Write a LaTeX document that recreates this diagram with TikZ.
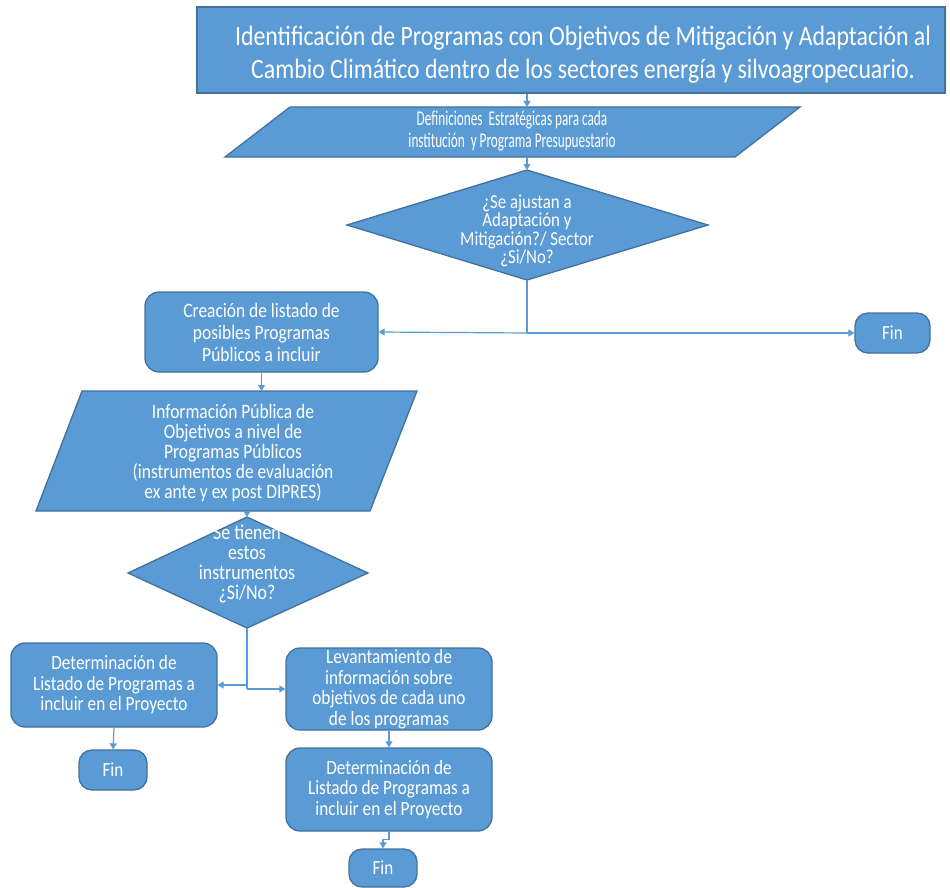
\documentclass[tikz,border=0pt]{standalone}
\usepackage{fontspec}
\setmainfont{Carlito}
\newfontfamily\flowfont[FakeStretch=0.85]{Carlito}
\newfontfamily\slimfont[FakeStretch=0.63]{Carlito}
\usetikzlibrary{arrows.meta}
\definecolor{flowfill}{HTML}{5B9BD5}
\definecolor{flowedge}{HTML}{41719C}
\definecolor{flowline}{HTML}{5B9BD5}
\newcommand{\fsz}[2]{\flowfont\fontsize{#1}{#2}\selectfont}
\begin{document}
\begin{tikzpicture}[x=1pt,y=-1pt,
  shapefill/.style={fill=flowfill, draw=flowedge, line width=1.3pt},
  txt/.style={text=white, align=center, inner sep=0pt, font=\fsz{20.3}{20.5}},
  procbox/.style={shapefill, txt, rounded corners=14pt},
  finbox/.style={shapefill, txt, rounded corners=13pt, font=\fsz{20}{20}},
  link/.style={draw=flowline, line width=1.2pt},
  flow/.style={link, -{Triangle[width=7pt,length=6pt]}}
]
\useasboundingbox (0,0) rectangle (950,888);

% title block
\node[shapefill, minimum width=748pt, minimum height=86pt] (top) at (571,50) {};
\node[txt, font=\fsz{28}{33}] (toptext) at (583,55)
  {Identificación de Programas con Objetivos de Mitigación y Adaptación al\\Cambio Climático dentro de los sectores energía y silvoagropecuario.};

% strategic definitions (data block)
\draw[shapefill] (290,107) -- (800,107) -- (735,157) -- (225,157) -- cycle;
\node[txt, font=\slimfont\fontsize{21}{22}\selectfont] (defs) at (512,131)
  {Definiciones \ Estratégicas para cada\\institución \ y Programa Presupuestario};
\coordinate (defsN) at (527,107);
\coordinate (defsS) at (527,157);

% first decision
\draw[shapefill] (527,170) -- (708,225) -- (527,280) -- (347,225) -- cycle;
\node[txt, font=\fsz{19.8}{18.5}] (dec1) at (527,231)
  {¿Se ajustan a\\Adaptación y\\Mitigación?/ Sector\\¿Si/No?};
\coordinate (dec1N) at (527,170);
\coordinate (dec1S) at (527,280);
\coordinate (branch1) at (527,333);

\node[procbox, minimum width=233pt, minimum height=80pt, font=\fsz{20.5}{22}] (crea) at (261.5,332)
  {Creación de listado de\\posibles Programas\\Públicos a incluir};
\node[finbox, minimum width=75pt, minimum height=40pt] (fin1) at (892.5,333) {Fin};

% public information (data block)
\draw[shapefill] (82,391) -- (417,391) -- (370,511) -- (36,511) -- cycle;
\node[txt, font=\fsz{20.5}{20}] (info) at (233,453)
  {Información Pública de\\Objetivos a nivel de\\Programas Públicos\\(instrumentos de evaluación\\ex ante y ex post DIPRES)};
\coordinate (infoN) at (261.5,391);
\coordinate (infoS) at (247,511);

% second decision
\draw[shapefill] (247,517) -- (368,573) -- (247,628) -- (128,573) -- cycle;
\node[txt, font=\fsz{21}{20}] (dec2) at (247,564)
  {Se tienen\\estos\\instrumentos\\¿Si/No?};
\coordinate (dec2N) at (247,517);
\coordinate (dec2S) at (247,628);
\coordinate (branch2) at (247,689);

\node[procbox, minimum width=206pt, minimum height=84pt] (det1) at (114,685)
  {Determinación de\\Listado de Programas a\\incluir en el Proyecto};
\node[finbox, minimum width=68pt, minimum height=40pt] (fin2) at (113,770) {Fin};

\node[procbox, minimum width=206pt, minimum height=82pt] (lev) at (389,689)
  {Levantamiento de\\información sobre\\objetivos de cada uno\\de los programas};
\node[procbox, minimum width=206pt, minimum height=83pt] (det2) at (389,789.5)
  {Determinación de\\Listado de Programas a\\incluir en el Proyecto};
\node[finbox, minimum width=68pt, minimum height=38pt] (fin3) at (383,868) {Fin};

% connectors
\draw[flow] (top.south -| defsN) -- (defsN);
\draw[flow] (defsS) -- (dec1N);
\draw[link] (dec1S) -- (branch1);
\draw[flow] (branch1) -- (crea.east);
\draw[flow] (branch1) -- (fin1.west);
\draw[flow] (crea.south) -- (infoN);
\draw[flow] (infoS) -- (dec2N);
\draw[link] (dec2S) -- (branch2);
\draw[flow] (dec2S |- det1.east) -- (det1.east);
\draw[flow] (branch2) -- (lev.west);
\draw[flow] (det1.south) -- (fin2.north);
\draw[flow] (lev.south) -- (det2.north);
\draw[flow] (det2.south) -- ++(0,8) -| (fin3.north);
\end{tikzpicture}
\end{document}
